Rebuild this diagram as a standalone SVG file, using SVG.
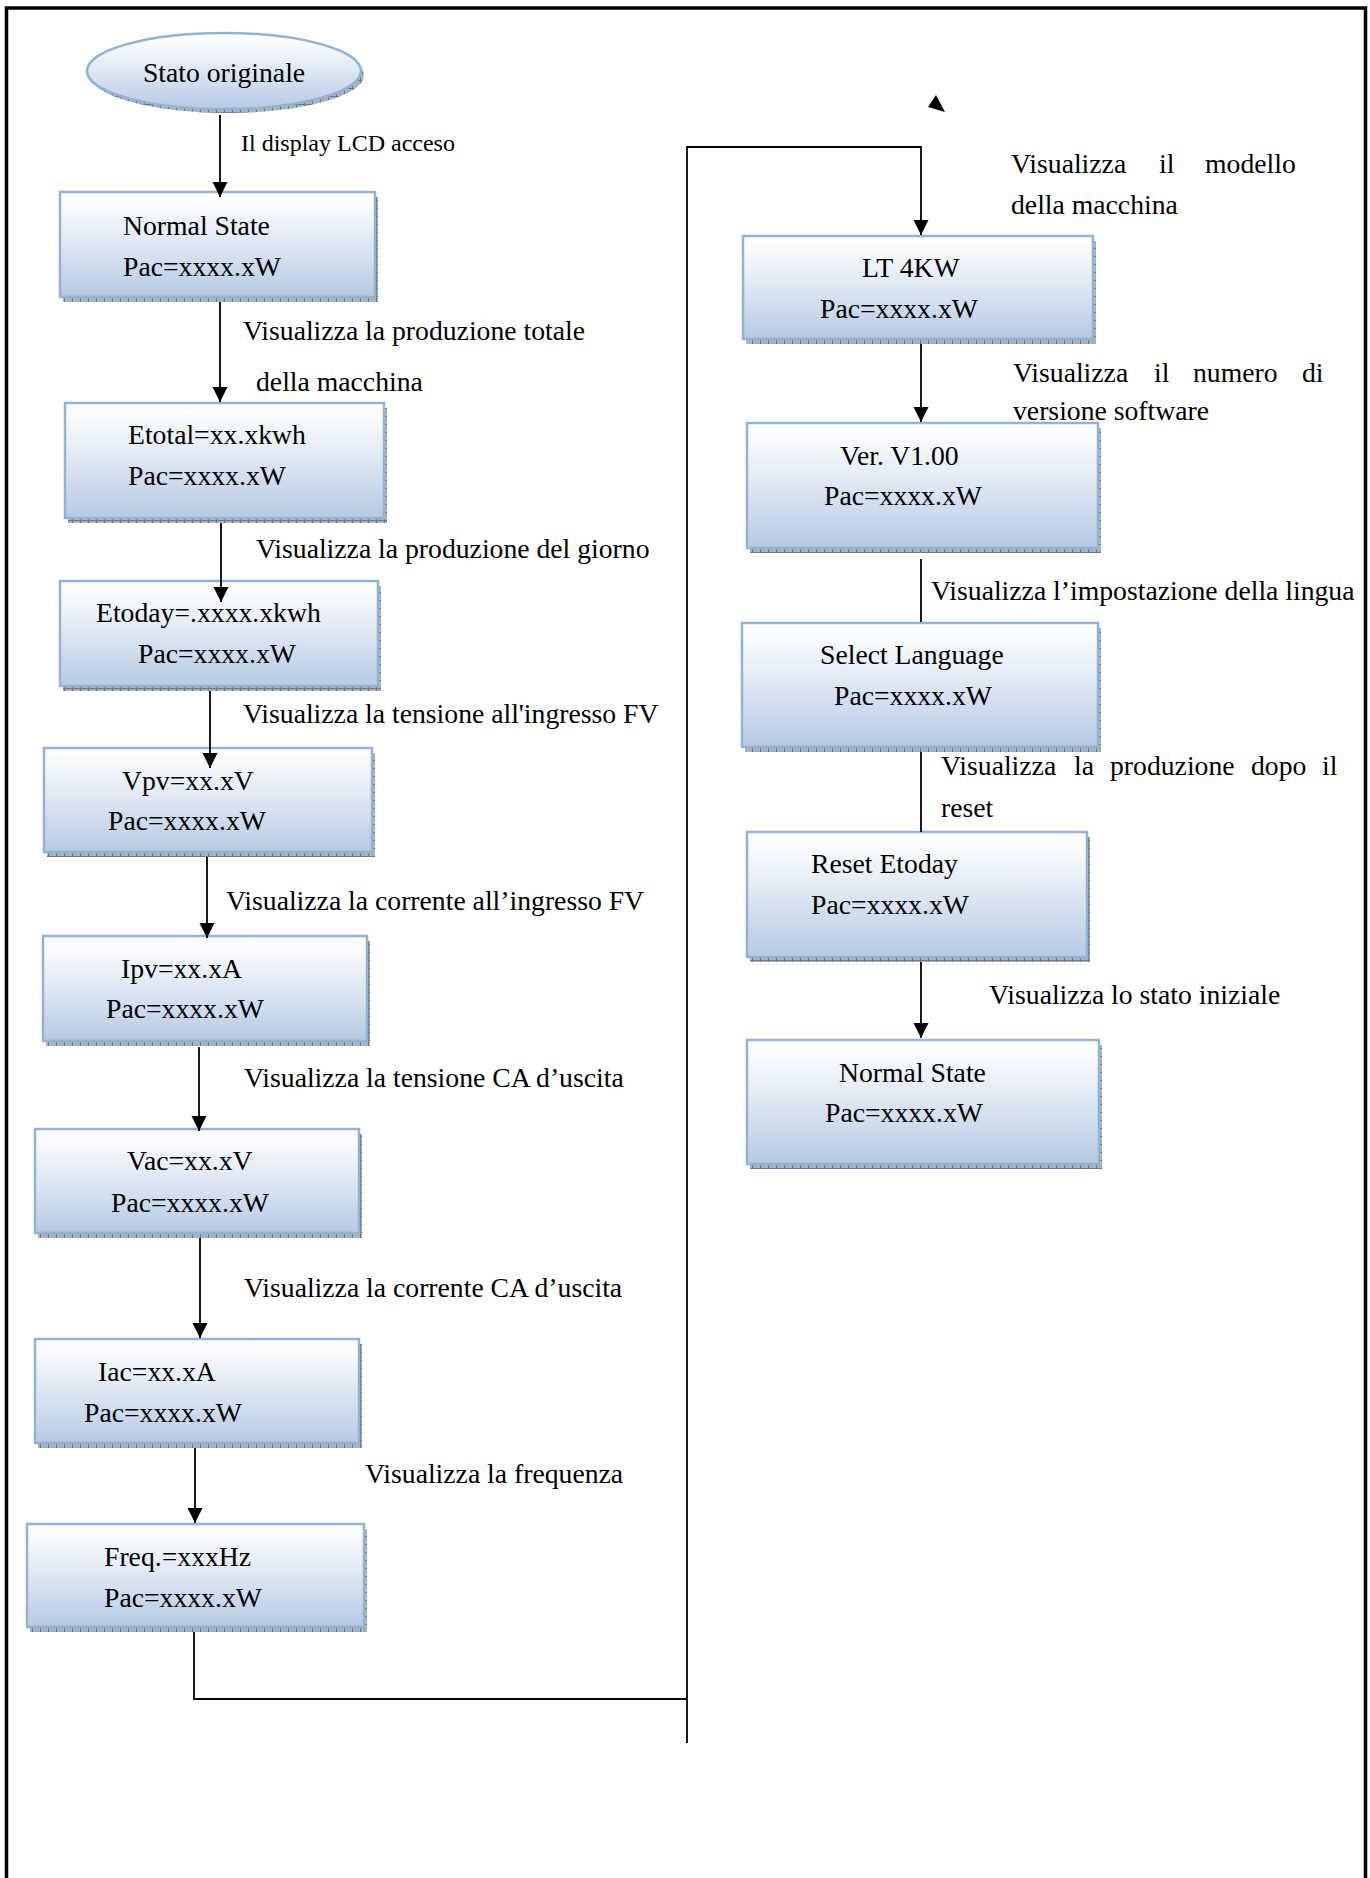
<svg xmlns="http://www.w3.org/2000/svg" width="1370" height="1878" viewBox="0 0 1370 1878">
  <style>
    .box { fill: url(#boxFill); stroke: #93b2d7; stroke-width: 2.5; }
    .shadow { fill: url(#hatch); }
    .t { font-family: "Liberation Serif", "Times New Roman", serif; font-size: 27.7px; fill: #000; }
    .small { font-size: 24px; }
    .wire { fill: none; stroke: #000; stroke-width: 1.8; }
    .arrow { marker-end: url(#head); }
  </style>
  <defs>
    <linearGradient id="boxFill" x1="0" y1="0" x2="0" y2="1">
      <stop offset="0" stop-color="#ffffff"/>
      <stop offset="0.15" stop-color="#f8fafd"/>
      <stop offset="0.55" stop-color="#d9e4f1"/>
      <stop offset="1" stop-color="#b6cae3"/>
    </linearGradient>
    <pattern id="hatch" width="8" height="8" patternUnits="userSpaceOnUse">
      <rect width="8" height="8" fill="#a9b2bc"/>
      <path d="M0.5,0V8M0,0.5H8" stroke="#6c7884" stroke-width="1"/>
    </pattern>
    <marker id="head" markerUnits="userSpaceOnUse" markerWidth="16" markerHeight="16" refX="15" refY="7.5" orient="auto" viewBox="0 0 16 16">
      <path d="M0,0L15,7.5L0,15Z" fill="#000"/>
    </marker>
  </defs>

  <!-- page frame (open at the bottom) -->
  <path d="M6.5,1878V8H1365.5V1878" fill="none" stroke="#000" stroke-width="3.5"/>

  <!-- edge labels -->
  <g id="labels" class="t">
    <text class="t small" x="241" y="151">Il display LCD acceso</text>
    <text class="t" x="243" y="340">Visualizza la produzione totale</text>
    <text class="t" x="256" y="391">della macchina</text>
    <text class="t" x="256" y="558">Visualizza la produzione del giorno</text>
    <text class="t" x="243" y="723">Visualizza la tensione all'ingresso FV</text>
    <text class="t" x="226" y="910">Visualizza la corrente all’ingresso FV</text>
    <text class="t" x="244" y="1087">Visualizza la tensione CA d’uscita</text>
    <text class="t" x="244" y="1297">Visualizza la corrente CA d’uscita</text>
    <text class="t" x="365" y="1483">Visualizza la frequenza</text>
    <text class="t" y="173"><tspan x="1011">Visualizza</tspan><tspan x="1159">il</tspan><tspan x="1205">modello</tspan></text>
    <text class="t" x="1011" y="214">della macchina</text>
    <text class="t" y="382"><tspan x="1013">Visualizza</tspan><tspan x="1154">il</tspan><tspan x="1193">numero</tspan><tspan x="1302">di</tspan></text>
    <text class="t" x="1013" y="420">versione software</text>
    <text class="t" x="931" y="600">Visualizza l’impostazione della lingua</text>
    <text class="t" y="775"><tspan x="941">Visualizza</tspan><tspan x="1074">la</tspan><tspan x="1110">produzione</tspan><tspan x="1251">dopo</tspan><tspan x="1322">il</tspan></text>
    <text class="t" x="941" y="817">reset</text>
    <text class="t" x="989" y="1004">Visualizza lo stato iniziale</text>
  </g>

  <!-- start node -->
  <g id="start">
    <ellipse class="shadow" cx="227" cy="75" rx="137" ry="38"/>
    <ellipse class="box" cx="224" cy="71" rx="137" ry="38"/>
    <text class="t" x="224" y="82" text-anchor="middle">Stato originale</text>
  </g>

  <!-- left column states -->
  <g id="normal-state">
    <rect class="shadow" x="63" y="197" width="315" height="105"/>
    <rect class="box" x="60" y="192" width="315" height="105"/>
    <text class="t" x="123" y="235">Normal State</text>
    <text class="t" x="123" y="276">Pac=xxxx.xW</text>
  </g>
  <g id="etotal">
    <rect class="shadow" x="68" y="408" width="319" height="115"/>
    <rect class="box" x="65" y="403" width="319" height="115"/>
    <text class="t" x="128" y="444">Etotal=xx.xkwh</text>
    <text class="t" x="128" y="485">Pac=xxxx.xW</text>
  </g>
  <g id="etoday">
    <rect class="shadow" x="63" y="586" width="318" height="105"/>
    <rect class="box" x="60" y="581" width="318" height="105"/>
    <text class="t" x="96" y="622">Etoday=.xxxx.xkwh</text>
    <text class="t" x="138" y="663">Pac=xxxx.xW</text>
  </g>
  <g id="vpv">
    <rect class="shadow" x="47" y="753" width="328" height="104"/>
    <rect class="box" x="44" y="748" width="328" height="104"/>
    <text class="t" x="122" y="790">Vpv=xx.xV</text>
    <text class="t" x="108" y="830">Pac=xxxx.xW</text>
  </g>
  <g id="ipv">
    <rect class="shadow" x="46" y="941" width="324" height="105"/>
    <rect class="box" x="43" y="936" width="324" height="105"/>
    <text class="t" x="121" y="978">Ipv=xx.xA</text>
    <text class="t" x="106" y="1018">Pac=xxxx.xW</text>
  </g>
  <g id="vac">
    <rect class="shadow" x="38" y="1134" width="324" height="104"/>
    <rect class="box" x="35" y="1129" width="324" height="104"/>
    <text class="t" x="127" y="1170">Vac=xx.xV</text>
    <text class="t" x="111" y="1212">Pac=xxxx.xW</text>
  </g>
  <g id="iac">
    <rect class="shadow" x="38" y="1344" width="324" height="104"/>
    <rect class="box" x="35" y="1339" width="324" height="104"/>
    <text class="t" x="98" y="1381">Iac=xx.xA</text>
    <text class="t" x="84" y="1422">Pac=xxxx.xW</text>
  </g>
  <g id="freq">
    <rect class="shadow" x="30" y="1529" width="337" height="103"/>
    <rect class="box" x="27" y="1524" width="337" height="103"/>
    <text class="t" x="104" y="1566">Freq.=xxxHz</text>
    <text class="t" x="104" y="1607">Pac=xxxx.xW</text>
  </g>

  <!-- right column states -->
  <g id="model">
    <rect class="shadow" x="746" y="241" width="350" height="103"/>
    <rect class="box" x="743" y="236" width="350" height="103"/>
    <text class="t" x="862" y="277">LT 4KW</text>
    <text class="t" x="820" y="318">Pac=xxxx.xW</text>
  </g>
  <g id="version">
    <rect class="shadow" x="750" y="428" width="351" height="125"/>
    <rect class="box" x="747" y="423" width="351" height="125"/>
    <text class="t" x="840" y="465">Ver. V1.00</text>
    <text class="t" x="824" y="505">Pac=xxxx.xW</text>
  </g>
  <g id="language">
    <rect class="shadow" x="745" y="628" width="356" height="124"/>
    <rect class="box" x="742" y="623" width="356" height="124"/>
    <text class="t" x="820" y="664">Select Language</text>
    <text class="t" x="834" y="705">Pac=xxxx.xW</text>
  </g>
  <g id="reset">
    <rect class="shadow" x="750" y="837" width="340" height="125"/>
    <rect class="box" x="747" y="832" width="340" height="125"/>
    <text class="t" x="811" y="873">Reset Etoday</text>
    <text class="t" x="811" y="914">Pac=xxxx.xW</text>
  </g>
  <g id="normal-state-2">
    <rect class="shadow" x="750" y="1045" width="352" height="124"/>
    <rect class="box" x="747" y="1040" width="352" height="124"/>
    <text class="t" x="839" y="1082">Normal State</text>
    <text class="t" x="825" y="1122">Pac=xxxx.xW</text>
  </g>

  <!-- connectors, drawn last so arrowheads sit on top of the boxes -->
  <g id="connectors">
    <path class="wire arrow" d="M220,115V197"/>
    <path class="wire arrow" d="M220,302V402"/>
    <path class="wire arrow" d="M221,523V602"/>
    <path class="wire arrow" d="M210,691V768"/>
    <path class="wire arrow" d="M207,857V938"/>
    <path class="wire arrow" d="M199,1047V1131"/>
    <path class="wire arrow" d="M200,1238V1338"/>
    <path class="wire arrow" d="M195,1448V1523"/>
    <path class="wire" d="M194,1632V1699H687"/>
    <path class="wire arrow" d="M687,1743V147H921V235"/>
    <path d="M936,95L928,107L945,112Z" fill="#000"/>
    <path class="wire arrow" d="M921,344V422"/>
    <path class="wire" d="M921,559V622"/>
    <path class="wire" d="M921,752V832"/>
    <path class="wire arrow" d="M921,962V1038"/>
  </g>
</svg>
